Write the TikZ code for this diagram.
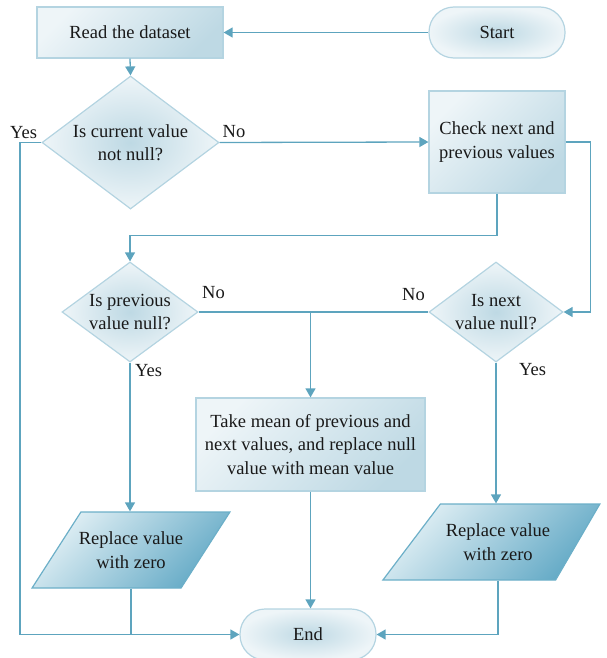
\documentclass[tikz,border=0pt]{standalone}
\usepackage{fontspec}
\setmainfont{Liberation Serif}
\usetikzlibrary{shapes.geometric,arrows.meta}

\definecolor{flow}{RGB}{93,164,190}
\definecolor{rim}{RGB}{180,212,225}
\definecolor{boxlight}{RGB}{238,245,248}
\definecolor{boxdark}{RGB}{190,217,228}
\definecolor{iolight}{RGB}{226,240,245}
\definecolor{iodark}{RGB}{100,170,198}
\definecolor{iorim}{RGB}{108,175,200}
\definecolor{ink}{RGB}{25,25,25}

\begin{document}
\begin{tikzpicture}[x=1pt,y=-1pt,
  txt/.style={align=center,text=ink,font=\fontsize{18.5}{23.5}\selectfont},
  lbl/.style={txt,anchor=base,inner sep=0pt},
  procbox/.style={rectangle,draw=rim,line width=1.2pt,left color=boxlight,
    right color=boxdark,shading angle=45,inner sep=0pt,txt},
  termbox/.style={rectangle,rounded corners=25pt,draw=rim,line width=1.2pt,
    inner color=boxdark,outer color=boxlight,inner sep=0pt,txt,
    minimum width=136pt,minimum height=51pt},
  decbox/.style={diamond,draw=rim,line width=1.2pt,inner color=boxdark,
    outer color=boxlight,inner sep=0pt},
  iobox/.style={trapezium,trapezium stretches=true,draw=iorim,line width=1.2pt,
    left color=iolight,right color=iodark,shading angle=45,inner sep=3pt},
  conn/.style={draw=flow,line width=1.3pt},
  arr/.style={conn,-{Triangle[length=9pt,width=10pt]}}
]
\useasboundingbox (0,0) rectangle (606,658);

% process and terminal boxes
\node[termbox] (start) at (497,32.5) {Start};
\node[procbox,minimum width=186pt,minimum height=51pt] (read) at (130,32.5) {Read the dataset};
\node[procbox,minimum width=136pt,minimum height=102pt] (chk) at (497,142) {Check next and\\previous values};
\node[procbox,minimum width=229pt,minimum height=93pt] (mean) at (310.5,444.5)
  {Take mean of previous and\\next values, and replace null\\value with mean value};
\node[termbox] (end) at (308,634.5) {End};

% decisions
\node[decbox,minimum width=177pt,minimum height=133pt,
  label={[txt]center:Is current value\\not null?}] (d1) at (130.5,142.5) {};
\node[decbox,minimum width=136pt,minimum height=100pt,
  label={[txt]center:Is previous\\value null?}] (d2) at (130,312) {};
\node[decbox,minimum width=134pt,minimum height=100pt,
  label={[txt]center:Is next\\value null?}] (d3) at (496,312) {};

% input/output boxes
\node[iobox,trapezium left angle=64,trapezium right angle=116,
  minimum width=198pt,minimum height=76pt,
  label={[txt]center:Replace value\\with zero}] (p1) at (131,550) {};
\node[iobox,trapezium left angle=63.5,trapezium right angle=111,
  minimum width=217pt,minimum height=76pt,
  label={[txt]center:Replace value\\with zero}] (p2) at (498,542) {};

% connectors
\draw[arr] (start.west) -- (read.east);
\draw[arr] (read.south) -- (d1.north);
\coordinate (yesleft) at (20,142.5);
\draw[arr] (d1.west) -- (yesleft) |- (end.west);
\draw[arr] (d1.east) -- (chk.west);
\draw[arr] (chk.south) -- ++(0,42) -| (d2.north);
\draw[arr] (chk.east) -- ++(25,0) |- (d3.east);
\draw[conn] (d2.east) -- (d3.west);
\draw[arr] (mean.north |- d2.east) -- (mean.north);
\draw[arr] (mean.south) -- (mean.south |- end.north);
\draw[arr] (d2.south) -- (d2.south |- p1.north);
\draw[conn] (p1.south) -- (p1.south |- end.west);
\draw[arr] (d3.south) -- (d3.south |- p2.north);
\draw[arr] (p2.south) |- (end.east);

% branch labels
\node[lbl] (yes1) at (23.5,139) {Yes};
\node[lbl] (no1) at (234,137) {No};
\node[lbl] (no2) at (213.5,298) {No};
\node[lbl] (no3) at (413.5,300) {No};
\node[lbl] (yes2) at (148.5,376) {Yes};
\node[lbl] (yes3) at (532.5,375.5) {Yes};
\end{tikzpicture}
\end{document}
